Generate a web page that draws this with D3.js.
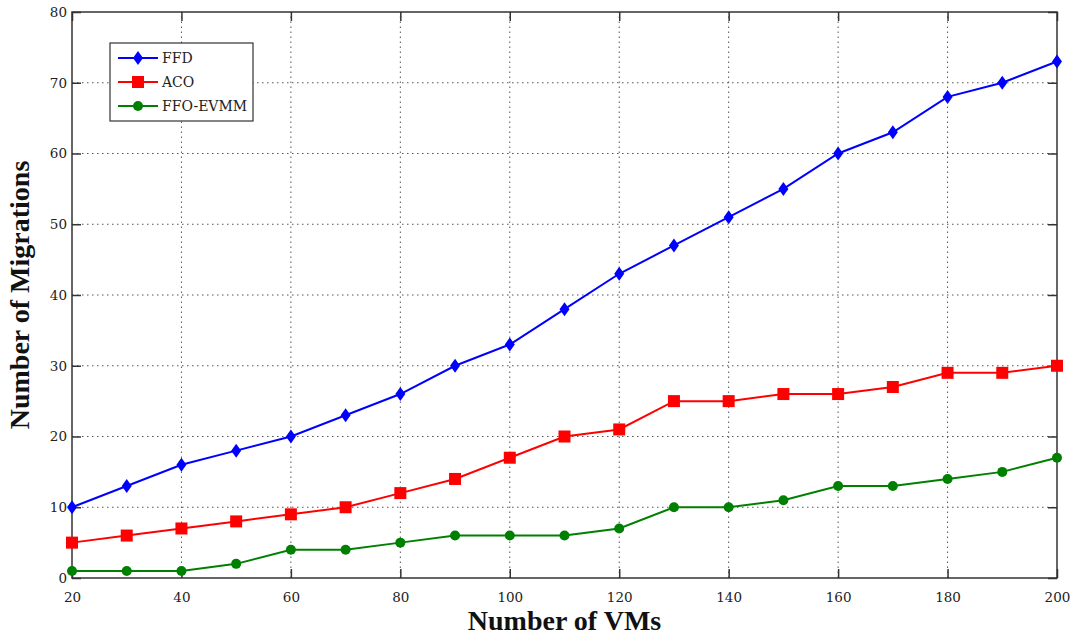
<!DOCTYPE html>
<html>
<head>
<meta charset="utf-8">
<script src="https://cdn.jsdelivr.net/npm/d3@7"></script>
<style>
  body { margin: 0; background: #fff; }
  .tick text { font-family: "DejaVu Serif", "Liberation Serif", serif; font-size: 13.5px; fill: #222; }
  .grid line { stroke: #555; stroke-dasharray: 1.5,3.5; stroke-width: 1; }
  .axis-title { font-family: "Liberation Serif", "DejaVu Serif", serif; font-weight: bold; font-size: 28px; fill: #111; }
</style>
</head>
<body>
<div id="chart"></div>
<script>
var vms = [20, 30, 40, 50, 60, 70, 80, 90, 100, 110, 120, 130, 140, 150, 160, 170, 180, 190, 200];
var ffd = [10, 13, 16, 18, 20, 23, 26, 30, 33, 38, 43, 47, 51, 55, 60, 63, 68, 70, 73];
var aco = [5, 6, 7, 8, 9, 10, 12, 14, 17, 20, 21, 25, 25, 26, 26, 27, 29, 29, 30];
var ffoEvmm = [1, 1, 1, 2, 4, 4, 5, 6, 6, 6, 7, 10, 10, 11, 13, 13, 14, 15, 17];
var xTicks = [20, 40, 60, 80, 100, 120, 140, 160, 180, 200];
var yTicks = [0, 10, 20, 30, 40, 50, 60, 70, 80];

var series = [
    {name: "FFD", values: ffd, color: "#0000ff", marker: "diamond"},
    {name: "ACO", values: aco, color: "#ff0000", marker: "square"},
    {name: "FFO-EVMM", values: ffoEvmm, color: "#008000", marker: "circle"}
];

var width = 1071, height = 638;
var margin = {top: 12, right: 14, bottom: 60, left: 72};

var svg = d3.select("#chart").append("svg")
    .attr("width", width)
    .attr("height", height);

var x = d3.scaleLinear().domain([20, 200]).range([margin.left, width - margin.right]);
var y = d3.scaleLinear().domain([0, 80]).range([height - margin.bottom, margin.top]);

// grid
svg.append("g").attr("class", "grid")
    .selectAll("line").data(xTicks.slice(1, -1)).enter().append("line")
    .attr("x1", function (d) { return x(d); }).attr("x2", function (d) { return x(d); })
    .attr("y1", y(0)).attr("y2", y(80));
svg.append("g").attr("class", "grid")
    .selectAll("line").data(yTicks.slice(1, -1)).enter().append("line")
    .attr("x1", x(20)).attr("x2", x(200))
    .attr("y1", function (d) { return y(d); }).attr("y2", function (d) { return y(d); });

// axes with inward ticks
var tickLen = 9;
svg.append("g")
    .attr("transform", "translate(0," + y(0) + ")")
    .call(d3.axisBottom(x).tickValues(xTicks).tickSize(-tickLen).tickPadding(14))
    .call(function (g) { g.select(".domain").remove(); });
svg.append("g")
    .attr("transform", "translate(" + x(20) + ",0)")
    .call(d3.axisLeft(y).tickValues(yTicks).tickSize(-tickLen).tickPadding(5))
    .call(function (g) { g.select(".domain").remove(); });
svg.append("g")
    .attr("transform", "translate(0," + y(80) + ")")
    .call(d3.axisTop(x).tickValues(xTicks).tickSize(-tickLen).tickFormat(""))
    .call(function (g) { g.select(".domain").remove(); });
svg.append("g")
    .attr("transform", "translate(" + x(200) + ",0)")
    .call(d3.axisRight(y).tickValues(yTicks).tickSize(-tickLen).tickFormat(""))
    .call(function (g) { g.select(".domain").remove(); });
svg.selectAll(".tick line").attr("stroke", "#333").attr("stroke-width", 1.5);

svg.append("rect")
    .attr("x", x(20)).attr("y", y(80))
    .attr("width", x(200) - x(20)).attr("height", y(0) - y(80))
    .attr("fill", "none").attr("stroke", "#333").attr("stroke-width", 1.5);

// lines
var line = d3.line()
    .x(function (d, i) { return x(vms[i]); })
    .y(function (d) { return y(d); });

function drawMarker(g, type, color, cx, cy) {
    if (type === "diamond") {
        g.append("path").attr("d", "M0,-7L5,0L0,7L-5,0Z")
            .attr("transform", "translate(" + cx + "," + cy + ")").attr("fill", color);
    } else if (type === "square") {
        g.append("rect").attr("x", cx - 6).attr("y", cy - 6).attr("width", 12).attr("height", 12).attr("fill", color);
    } else {
        g.append("circle").attr("cx", cx).attr("cy", cy).attr("r", 5).attr("fill", color);
    }
}

series.forEach(function (s) {
    svg.append("path")
        .datum(s.values)
        .attr("d", line)
        .attr("fill", "none")
        .attr("stroke", s.color)
        .attr("stroke-width", 2);
    var g = svg.append("g");
    s.values.forEach(function (v, i) {
        drawMarker(g, s.marker, s.color, x(vms[i]), y(v));
    });
});

// legend
var lg = svg.append("g").attr("transform", "translate(110,43)");
lg.append("rect").attr("width", 143).attr("height", 78)
    .attr("fill", "#fff").attr("stroke", "#333").attr("stroke-width", 1.2);
series.forEach(function (s, i) {
    var ly = 15 + i * 24;
    lg.append("line").attr("x1", 8).attr("x2", 48).attr("y1", ly).attr("y2", ly)
        .attr("stroke", s.color).attr("stroke-width", 2);
    drawMarker(lg, s.marker, s.color, 28, ly);
    lg.append("text").attr("x", 52).attr("y", ly + 5)
        .attr("font-family", "DejaVu Serif, serif").attr("font-size", 14).attr("fill", "#222")
        .text(s.name);
});

// axis titles
svg.append("text").attr("class", "axis-title")
    .attr("x", (x(20) + x(200)) / 2).attr("y", 630)
    .attr("text-anchor", "middle")
    .text("Number of VMs");
svg.append("text").attr("class", "axis-title")
    .attr("transform", "translate(29," + ((y(0) + y(80)) / 2) + ") rotate(-90)")
    .attr("text-anchor", "middle")
    .text("Number of Migrations");
</script>
</body>
</html>
